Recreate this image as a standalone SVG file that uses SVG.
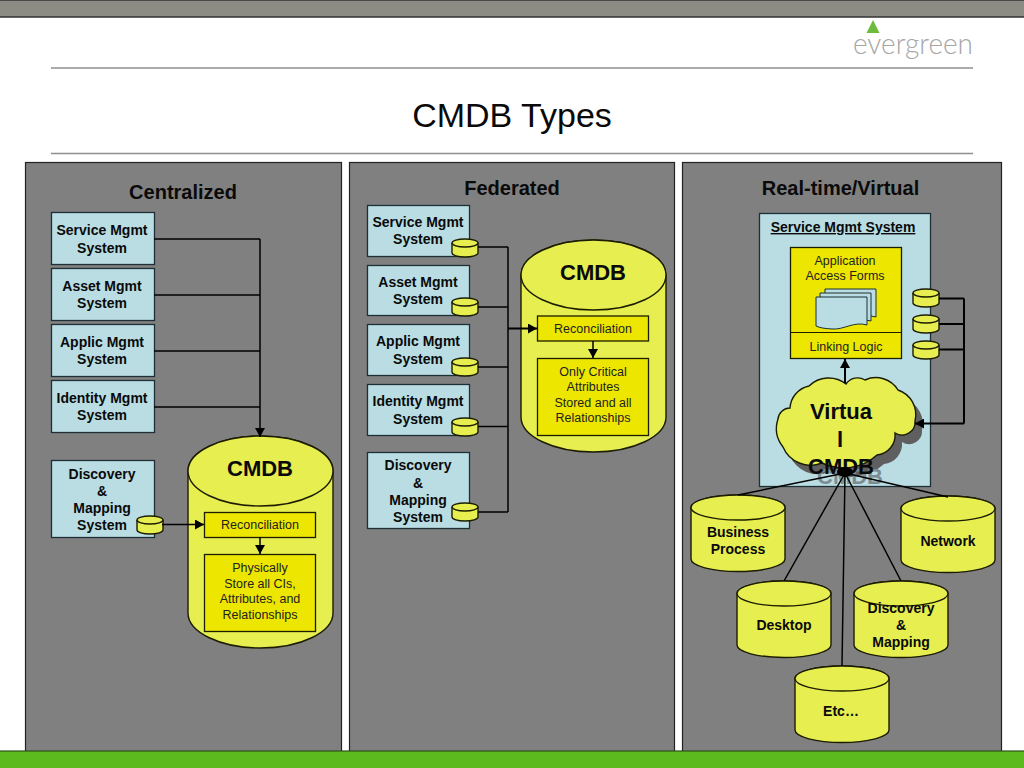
<svg xmlns="http://www.w3.org/2000/svg" xmlns:xlink="http://www.w3.org/1999/xlink" width="1024" height="768" viewBox="0 0 1024 768">
<style>
text{font-family:"Liberation Sans",Arial,sans-serif;fill:#0a0a0a;text-anchor:middle}
.panel{fill:#808080;stroke:#222;stroke-width:1.2}
.sys{fill:#b9dde3;stroke:#1e3035;stroke-width:1.3}
.cyl{fill:#e6ee50;stroke:#1c1c00;stroke-width:1.4}
.box{fill:#ece600;stroke:#1c1c00;stroke-width:1.3}
.b14{font-size:14px;font-weight:bold}
.r12{font-size:12.5px;fill:#222}
.h20{font-size:20px;font-weight:bold}
.h22{font-size:22px;font-weight:bold}
.rule{stroke:#8f8f8f;stroke-width:1.3}
.conn{fill:none;stroke:#000;stroke-width:1.5}
.thick{stroke-width:2}
</style>
<defs>
<marker id="arrow" markerUnits="userSpaceOnUse" markerWidth="10" markerHeight="10" refX="9" refY="5" orient="auto"><path d="M0,0L9,5L0,10Z" fill="#000"/></marker>
<g id="mini"><path class="cyl" d="M0,4A13,4 0 0 1 26,4V14A13,4 0 0 1 0,14Z"/><path class="cyl" d="M0,4A13,4 0 0 0 26,4" fill="none"/></g>
<g id="big"><path class="cyl" d="M0,35A72.5,35 0 0 1 145,35V177A72.5,35 0 0 1 0,177Z"/><ellipse class="cyl" cx="72.500" cy="35" rx="72.500" ry="35"/></g>
<g id="src"><path class="cyl" d="M0,12.500A47,12.500 0 0 1 94,12.500V64A47,12.500 0 0 1 0,64Z"/><ellipse class="cyl" cx="47" cy="12.500" rx="47" ry="12.500"/></g>
<path id="cloud" d="M778,419A12,12 0 0 1 790,408A24,24 0 0 1 809,386A28,28 0 0 1 846,384A14,14 0 0 1 865,380A26,26 0 0 1 898,390A26,26 0 0 1 915,421A13,13 0 0 1 895,433A20,20 0 0 1 877,455A50,50 0 0 1 822,463A30,30 0 0 1 783,447A30,30 0 0 1 778,419Z"/>
<path id="sheet" d="M0,0H51V28C38,24 28,33 16,32C9,31.500 4,31 0,29Z" fill="#b9dde3" stroke="#1e3035" stroke-width="1"/>
</defs>

<g id="chrome">
<rect x="-2" y="0" width="1028" height="17" fill="#8c8c84" stroke="#333" stroke-width="1.500"/>
<path d="M873,20L879.500,33H866.500Z" fill="#6cbb3c"/>
<text x="913" y="54" font-size="30" style="font-family:Lato,'Liberation Sans',sans-serif;font-weight:300;fill:#a6a6a6" textLength="120" lengthAdjust="spacingAndGlyphs">evergreen</text>
<line class="rule" x1="51" y1="68" x2="973" y2="68"/>
<text x="512" y="127" font-size="34">CMDB Types</text>
<line class="rule" x1="51" y1="153.500" x2="973" y2="153.500"/>
<rect class="panel" x="25.500" y="162.500" width="316" height="600"/>
<rect class="panel" x="349.500" y="162.500" width="325" height="600"/>
<rect class="panel" x="682.500" y="162.500" width="319" height="600"/>
<rect x="-2" y="751" width="1028" height="19" fill="#5cb91e" stroke="#2f4f1a" stroke-width="1.200"/>
<text class="h20" x="183" y="199">Centralized</text>
<text class="h20" x="512" y="195">Federated</text>
<text class="h20" x="840.500" y="195">Real-time/Virtual</text>
</g>

<g id="c-service"><rect class="sys" x="51.500" y="212.500" width="103" height="52"/><text class="b14" x="102" y="235">Service Mgmt</text><text class="b14" x="102" y="253">System</text></g>
<g id="c-asset"><rect class="sys" x="51.500" y="268.500" width="103" height="52"/><text class="b14" x="102" y="291">Asset Mgmt</text><text class="b14" x="102" y="308">System</text></g>
<g id="c-applic"><rect class="sys" x="51.500" y="324.500" width="103" height="52"/><text class="b14" x="102" y="347">Applic Mgmt</text><text class="b14" x="102" y="364">System</text></g>
<g id="c-identity"><rect class="sys" x="51.500" y="380.500" width="103" height="52"/><text class="b14" x="102" y="403">Identity Mgmt</text><text class="b14" x="102" y="420">System</text></g>
<g id="c-discovery"><rect class="sys" x="51.500" y="460.500" width="103" height="77"/><text class="b14" x="102" y="479">Discovery</text><text class="b14" x="102" y="496">&amp;</text><text class="b14" x="102" y="513">Mapping</text><text class="b14" x="102" y="530">System</text><use xlink:href="#mini" href="#mini" x="137" y="516"/></g>
<g id="c-cmdb"><use xlink:href="#big" href="#big" x="188" y="436"/><text class="h22" x="260" y="476">CMDB</text>
<rect class="box" x="204.500" y="512.500" width="111" height="25"/><text class="r12" x="260" y="529">Reconciliation</text>
<rect class="box" x="204.500" y="554.500" width="111" height="77"/><text class="r12" x="260" y="572">Physically</text><text class="r12" x="260" y="588">Store all CIs,</text><text class="r12" x="260" y="603">Attributes, and</text><text class="r12" x="260" y="619">Relationships</text></g>

<g id="f-service"><rect class="sys" x="367.500" y="205.500" width="102" height="51"/><text class="b14" x="418" y="227">Service Mgmt</text><text class="b14" x="418" y="244">System</text><use xlink:href="#mini" href="#mini" x="452" y="239"/></g>
<g id="f-asset"><rect class="sys" x="367.500" y="265.500" width="102" height="50"/><text class="b14" x="418" y="287">Asset Mgmt</text><text class="b14" x="418" y="304">System</text><use xlink:href="#mini" href="#mini" x="452" y="298"/></g>
<g id="f-applic"><rect class="sys" x="367.500" y="324.500" width="102" height="51"/><text class="b14" x="418" y="346">Applic Mgmt</text><text class="b14" x="418" y="364">System</text><use xlink:href="#mini" href="#mini" x="452" y="358"/></g>
<g id="f-identity"><rect class="sys" x="367.500" y="384.500" width="102" height="51"/><text class="b14" x="418" y="406">Identity Mgmt</text><text class="b14" x="418" y="424">System</text><use xlink:href="#mini" href="#mini" x="452" y="418"/></g>
<g id="f-discovery"><rect class="sys" x="367.500" y="452.500" width="102" height="76"/><text class="b14" x="418" y="470">Discovery</text><text class="b14" x="418" y="488">&amp;</text><text class="b14" x="418" y="505">Mapping</text><text class="b14" x="418" y="522">System</text><use xlink:href="#mini" href="#mini" x="452" y="503"/></g>
<g id="f-cmdb"><use xlink:href="#big" href="#big" x="521" y="240"/><text class="h22" x="593" y="280">CMDB</text>
<rect class="box" x="537.500" y="316" width="111" height="25"/><text class="r12" x="593" y="333">Reconciliation</text>
<rect class="box" x="537.500" y="358.500" width="111" height="77"/><text class="r12" x="593" y="376">Only Critical</text><text class="r12" x="593" y="391">Attributes</text><text class="r12" x="593" y="407">Stored and all</text><text class="r12" x="593" y="422">Relationships</text></g>

<g id="v-system"><rect x="759.500" y="213.500" width="171" height="273" fill="#b9dde3" stroke="#1e3035" stroke-width="1.300"/>
<text x="843" y="232" style="font-size:14px;font-weight:bold;text-decoration:underline">Service Mgmt System</text>
<rect class="box" x="790.500" y="247.500" width="111" height="111"/><line x1="790.500" y1="332.500" x2="901.500" y2="332.500" stroke="#1c1c00" stroke-width="1.200"/>
<text class="r12" x="845" y="265">Application</text><text class="r12" x="845" y="280">Access Forms</text><text class="r12" x="846" y="351">Linking Logic</text>
<use xlink:href="#sheet" href="#sheet" x="825" y="289"/><use xlink:href="#sheet" href="#sheet" x="820" y="293"/><use xlink:href="#sheet" href="#sheet" x="816" y="297"/></g>
<g id="v-minis"><use xlink:href="#mini" href="#mini" x="913" y="289"/><use xlink:href="#mini" href="#mini" x="913" y="315"/><use xlink:href="#mini" href="#mini" x="913" y="341"/></g>
<g id="v-cloud"><use xlink:href="#cloud" href="#cloud" x="7" y="9" fill="#5f5f5f"/><text class="h22" x="850" y="484" style="fill:#7d8c92">CMDB</text><use xlink:href="#cloud" href="#cloud" fill="#e6ee50" stroke="#1c1c00" stroke-width="1.400"/><text class="h22" x="841" y="419">Virtua</text><text class="h22" x="840" y="447">l</text><text class="h22" x="841" y="474">CMDB</text></g>
<g id="v-business"><use xlink:href="#src" href="#src" x="691" y="495"/><text class="b14" x="738" y="537">Business</text><text class="b14" x="738" y="554">Process</text></g>
<g id="v-network"><use xlink:href="#src" href="#src" x="901" y="496"/><text class="b14" x="948" y="546">Network</text></g>
<g id="v-desktop"><use xlink:href="#src" href="#src" x="737" y="581"/><text class="b14" x="784" y="630">Desktop</text></g>
<g id="v-discovery"><use xlink:href="#src" href="#src" x="854" y="581"/><text class="b14" x="901" y="613">Discovery</text><text class="b14" x="901" y="630">&amp;</text><text class="b14" x="901" y="647">Mapping</text></g>
<g id="v-etc"><use xlink:href="#src" href="#src" x="795" y="666"/><text class="b14" x="841" y="716">Etc…</text></g>

<g id="connectors">
<path class="conn" d="M154,239H260M154,295H260M154,351H260M154,407H260"/>
<path class="conn" d="M260,239V437" marker-end="url(#arrow)"/>
<path class="conn" d="M162,524.500H204" marker-end="url(#arrow)"/>
<path class="conn" d="M260,537V554" marker-end="url(#arrow)"/>
<path class="conn" d="M478,247H508M478,307H508M478,367H508M478,426.500H508M478,512H508M508,247V512"/>
<path class="conn thick" d="M508,328.500H537" marker-end="url(#arrow)"/>
<path class="conn" d="M593,341V358" marker-end="url(#arrow)"/>
<path class="conn thick" d="M845,383V359" marker-end="url(#arrow)"/>
<path class="conn thick" d="M939,298.500H964M939,324H964M939,349.500H964M964,298.500V423.500"/>
<path class="conn thick" d="M964,423.500H915" marker-end="url(#arrow)"/>
<path class="conn" d="M845,473L738,495M845,473L784,581M845,473L842,666M845,473L901,581M845,473L948,497"/>
<ellipse cx="845" cy="472" rx="8" ry="5" fill="#000"/>
</g>
</svg>
